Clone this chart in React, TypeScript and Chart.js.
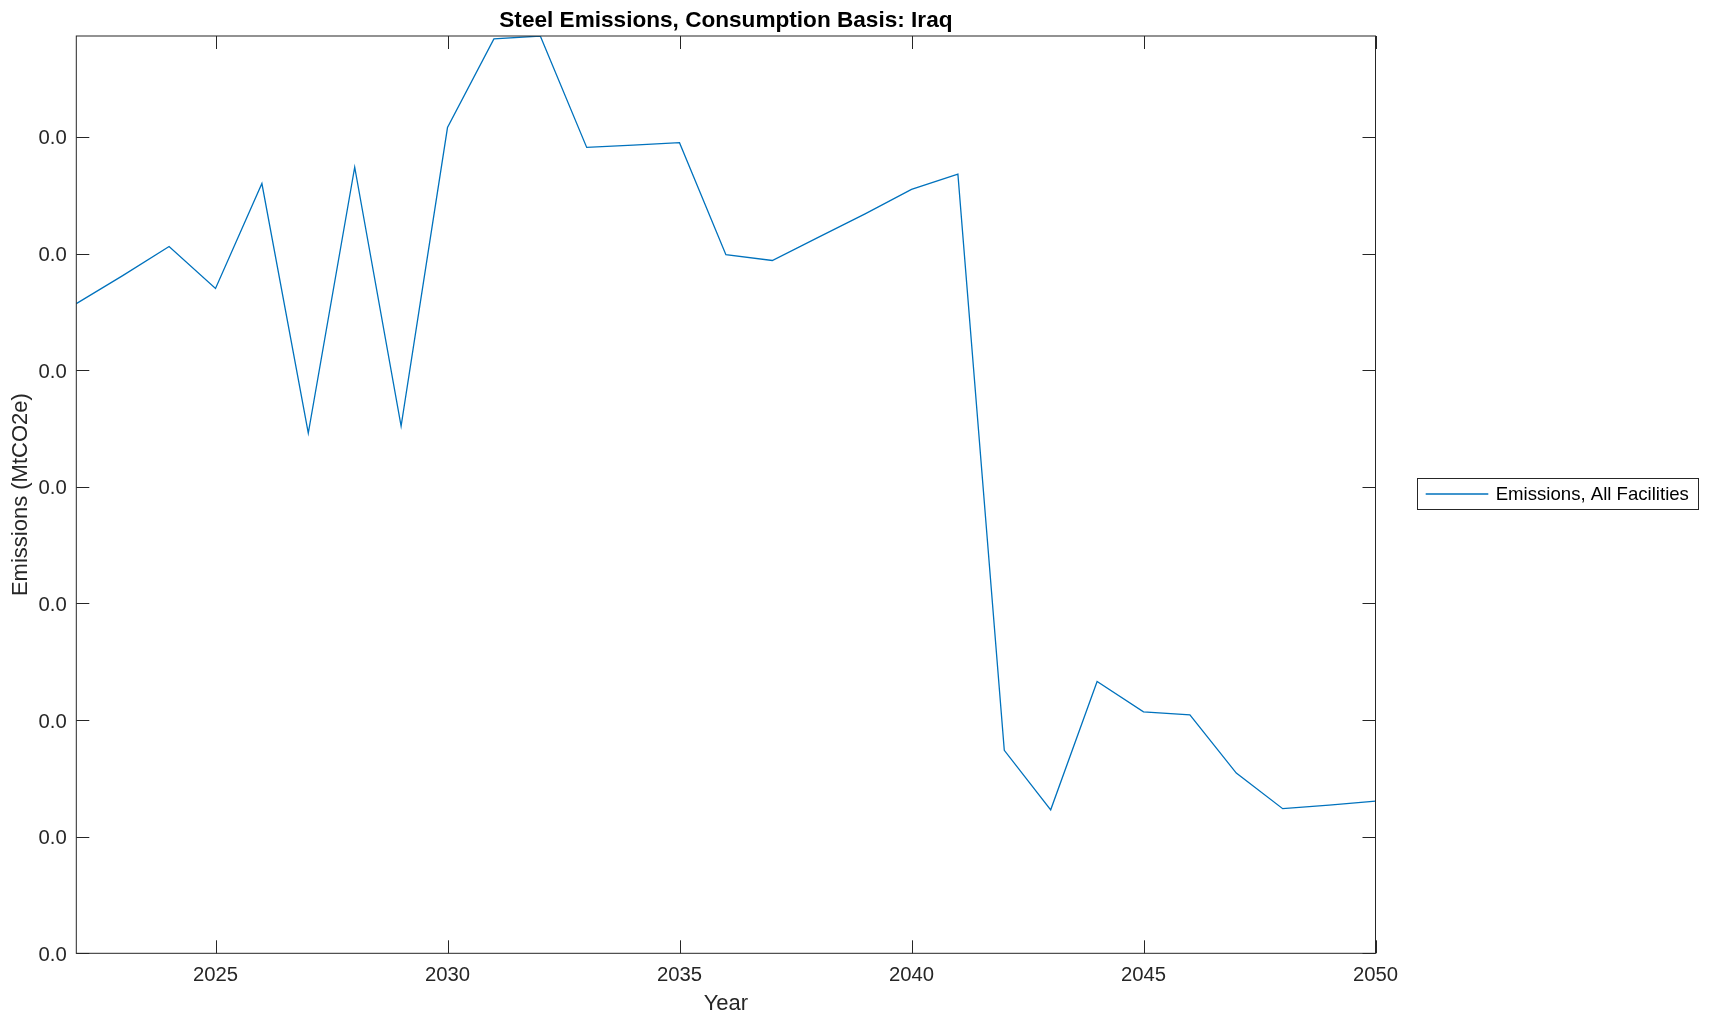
import React, { useEffect, useRef } from "react";
import { Chart, registerables } from "chart.js";

Chart.register(...registerables);

const years: number[] = [
  2022, 2023, 2024, 2025, 2026, 2027, 2028, 2029, 2030, 2031, 2032, 2033, 2034, 2035,
  2036, 2037, 2038, 2039, 2040, 2041, 2042, 2043, 2044, 2045, 2046, 2047, 2048, 2049, 2050,
];
const emissions: number[] = [
  0.00557, 0.00581, 0.00606, 0.0057, 0.0066, 0.00446, 0.00674, 0.00452, 0.00708, 0.00784,
  0.007865, 0.00691, 0.00693, 0.00695, 0.00599, 0.00594, 0.00614, 0.00634, 0.00655, 0.00668,
  0.00174, 0.00123, 0.00233, 0.00207, 0.002045, 0.001545, 0.00124, 0.00127, 0.001305,
];
const xTickYears: number[] = [2025, 2030, 2035, 2040, 2045, 2050];
const yTickStep = 0.001;
const seriesLabel = "Emissions, All Facilities";
const titleText = "Steel Emissions, Consumption Basis: Iraq";
const xTitle = "Year";
const yTitle = "Emissions (MtCO2e)";

const FONT = '"Liberation Sans", Arial, Helvetica, sans-serif';
const AXIS_COLOR = "#262626";
const LINE_COLOR = "#0072BD";
const W = 1709;
const H = 1021;

const boxPlugin = {
  id: "matlabBox",
  afterDraw(chart: any) {
    const { ctx, chartArea } = chart;
    const { left, right, top, bottom } = chartArea;
    const xs = chart.scales.x;
    const ys = chart.scales.y;
    ctx.save();
    ctx.strokeStyle = AXIS_COLOR;
    ctx.lineWidth = 1;
    ctx.strokeRect(left, top, right - left, bottom - top);
    const tl = 13;
    ctx.beginPath();
    xs.ticks.forEach((t: any) => {
      const px = Math.round(xs.getPixelForValue(t.value)) + 0.5;
      ctx.moveTo(px, bottom);
      ctx.lineTo(px, bottom - tl);
      ctx.moveTo(px, top);
      ctx.lineTo(px, top + tl);
    });
    ys.ticks.forEach((t: any) => {
      const py = Math.round(ys.getPixelForValue(t.value)) + 0.5;
      ctx.moveTo(left, py);
      ctx.lineTo(left + tl, py);
      ctx.moveTo(right, py);
      ctx.lineTo(right - tl, py);
    });
    ctx.stroke();

    // title
    ctx.fillStyle = "#000000";
    ctx.font = `bold 22.6px ${FONT}`;
    ctx.textAlign = "center";
    ctx.textBaseline = "middle";
    ctx.fillText(titleText, (left + right) / 2, 20.5);

    // legend
    const lx = 1417.5, ly = 478.5, lw = 281, lh = 31;
    ctx.fillStyle = "#ffffff";
    ctx.fillRect(lx, ly, lw, lh);
    ctx.strokeStyle = AXIS_COLOR;
    ctx.strokeRect(lx, ly, lw, lh);
    ctx.strokeStyle = LINE_COLOR;
    ctx.lineWidth = 1.3;
    ctx.beginPath();
    ctx.moveTo(1425.7, 494);
    ctx.lineTo(1488.3, 494);
    ctx.stroke();
    ctx.fillStyle = "#000000";
    ctx.font = `18.6px ${FONT}`;
    ctx.textAlign = "left";
    ctx.textBaseline = "middle";
    ctx.fillText(seriesLabel, 1495.7, 495);
    ctx.restore();
  },
};

export default function App() {
  const ref = useRef<HTMLCanvasElement | null>(null);
  useEffect(() => {
    if (!ref.current) return;
    const yMax = Math.max(...emissions);
    const chart = new Chart(ref.current, {
      type: "line",
      data: {
        datasets: [
          {
            label: seriesLabel,
            data: years.map((y, i) => ({ x: y, y: emissions[i] })),
            borderColor: LINE_COLOR,
            backgroundColor: LINE_COLOR,
            borderWidth: 1.3,
            pointRadius: 0,
            tension: 0,
            fill: false,
          },
        ],
      },
      options: {
        animation: false,
        responsive: false,
        maintainAspectRatio: false,
        layout: { padding: { top: 36, right: 333.5, bottom: 0, left: 0 } },
        plugins: {
          legend: { display: false },
          title: { display: false },
          tooltip: { enabled: false },
        },
        scales: {
          x: {
            type: "linear",
            min: years[0],
            max: years[years.length - 1],
            grid: { display: false, drawTicks: false },
            border: { display: false },
            afterFit: (s: any) => {
              s.height = H - 953.3;
            },
            afterBuildTicks: (s: any) => {
              s.ticks = xTickYears.map((v) => ({ value: v }));
            },
            ticks: {
              padding: 10,
              color: AXIS_COLOR,
              font: { family: FONT, size: 20.3 },
              callback: (v: any) => String(v),
              maxRotation: 0,
              autoSkip: false,
            },
            title: {
              display: true,
              text: xTitle,
              color: AXIS_COLOR,
              font: { family: FONT, size: 22 },
              padding: { top: 4, bottom: 4 },
            },
          },
          y: {
            type: "linear",
            min: 0,
            max: yMax,
            grid: { display: false, drawTicks: false },
            border: { display: false },
            afterFit: (s: any) => {
              s.width = 76.3;
            },
            ticks: {
              stepSize: yTickStep,
              includeBounds: false,
              padding: 9.6,
              labelOffset: 2,
              color: AXIS_COLOR,
              font: { family: FONT, size: 20.3 },
              callback: (v: any) => Number(v).toFixed(1),
            },
            title: {
              display: true,
              text: yTitle,
              color: AXIS_COLOR,
              font: { family: FONT, size: 22 },
              padding: { top: 8, bottom: 4 },
            },
          },
        },
      },
      plugins: [boxPlugin],
    });
    return () => chart.destroy();
  }, []);
  return (
    <div style={{ position: "fixed", left: 0, top: 0, width: W, height: H, background: "#fff" }}>
      <canvas ref={ref} width={W} height={H} style={{ width: W, height: H, display: "block" }} />
    </div>
  );
}
